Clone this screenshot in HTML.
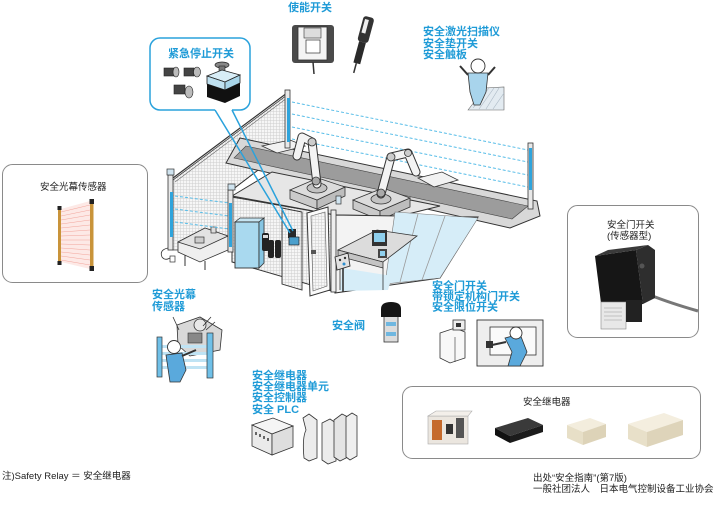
<!DOCTYPE html>
<html><head><meta charset="utf-8"><style>
html,body{margin:0;padding:0;background:#fff}
svg{display:block}
.b{font-family:"Liberation Sans","Noto Sans CJK SC",sans-serif;font-weight:bold;font-size:11px;fill:#1f9bd7}
.k{font-family:"Liberation Sans","Noto Sans CJK SC",sans-serif;font-size:9.5px;fill:#222}
</style></head><body>
<svg width="720" height="510" viewBox="0 0 720 510" xmlns="http://www.w3.org/2000/svg">
<defs>
<pattern id="mesh" width="3" height="3" patternUnits="userSpaceOnUse"><rect width="3" height="3" fill="#f6f6f6"/><path d="M0 .5H3M.5 0V3" stroke="#cfcfcf" stroke-width=".5"/></pattern>
</defs>

<!-- ===== MAIN CELL ===== -->
<g stroke="#58bde8" stroke-width="1" stroke-dasharray="3,2" fill="none">
<line x1="292" y1="102" x2="528" y2="150"/>
<line x1="292" y1="114" x2="528" y2="162"/>
<line x1="292" y1="127" x2="528" y2="175"/>
<line x1="292" y1="139" x2="528" y2="187"/>
</g>
<polygon points="173,180 287,95 287,148 232,190 232,250 173,250" fill="url(#mesh)" stroke="#444" stroke-width=".8"/>
<line x1="173" y1="178" x2="287" y2="93" stroke="#333" stroke-width="1.2"/>
<line x1="175" y1="182" x2="287" y2="98" stroke="#666" stroke-width=".6"/>
<line x1="232" y1="190" x2="287" y2="148" stroke="#333" stroke-width=".8"/>

<!-- conveyor -->
<polygon points="240,138 537,201 540,216 510,228 226,163" fill="#d8d8d8" stroke="#333"/>
<polygon points="246,146 528,206 512,219 234,158" fill="#9c9c9c" stroke="#444" stroke-width=".6"/>
<polygon points="262,146 290,140 305,146 277,153" fill="#f2f2f2" stroke="#333" stroke-width=".8"/>
<polygon points="418,178 442,172 458,180 434,187" fill="#f2f2f2" stroke="#333" stroke-width=".8"/>

<!-- base top -->
<polygon points="232,196 272,172 440,206 400,216 335,215" fill="#e6e6e6" stroke="#333"/>

<!-- pedestal 1 -->
<polygon points="290,190 317,200 317,209 290,199" fill="#cacaca" stroke="#333" stroke-width=".8"/>
<polygon points="317,200 345,187 345,196 317,209" fill="#bdbdbd" stroke="#333" stroke-width=".8"/>
<polygon points="290,190 318,178 345,187 317,200" fill="#dcdcdc" stroke="#333" stroke-width=".8"/>
<ellipse cx="317" cy="188" rx="10" ry="5" fill="#c2c2c2" stroke="#333" stroke-width=".8"/>
<!-- pedestal 2 -->
<polygon points="353,200 380,211 380,220 353,209" fill="#cacaca" stroke="#333" stroke-width=".8"/>
<polygon points="380,211 410,198 410,207 380,220" fill="#bdbdbd" stroke="#333" stroke-width=".8"/>
<polygon points="353,200 383,188 410,198 380,211" fill="#dcdcdc" stroke="#333" stroke-width=".8"/>
<ellipse cx="381" cy="199" rx="10" ry="5" fill="#c2c2c2" stroke="#333" stroke-width=".8"/>

<!-- robots -->
<g fill="none" stroke-linecap="round" stroke-linejoin="round">
<polyline points="317,184 312,142 302,137 297,156" stroke="#333" stroke-width="9"/>
<polyline points="317,184 312,142 302,137 297,156" stroke="#f3f3f3" stroke-width="7"/>
<polyline points="381,194 391,157 408,153 416,172" stroke="#333" stroke-width="9"/>
<polyline points="381,194 391,157 408,153 416,172" stroke="#f3f3f3" stroke-width="7"/>
</g>
<circle cx="312" cy="142" r="4" fill="#ccc" stroke="#333" stroke-width=".8"/>
<circle cx="391" cy="157" r="4" fill="#ccc" stroke="#333" stroke-width=".8"/>
<circle cx="408" cy="153" r="3.5" fill="#ccc" stroke="#333" stroke-width=".8"/>
<circle cx="316" cy="181" r="4" fill="#aaa" stroke="#333" stroke-width=".8"/>
<circle cx="381" cy="193" r="4" fill="#aaa" stroke="#333" stroke-width=".8"/>

<!-- front wall -->
<polygon points="232,197 335,215 335,292 232,262" fill="url(#mesh)" stroke="#333"/>
<!-- right section -->
<polygon points="335,215 400,216 478,217 440,278 335,293" fill="#f3f3f3" stroke="#333"/>
<polygon points="395,212 478,218 440,278 385,284" fill="#d6edf8" stroke="#777" stroke-width=".6"/>
<line x1="418" y1="214" x2="400" y2="282" stroke="#9a9a9a" stroke-width=".8"/>
<line x1="445" y1="216" x2="422" y2="280" stroke="#9a9a9a" stroke-width=".8"/>
<polygon points="342,268 392,276 388,290 340,291" fill="#d6edf8"/>
<polygon points="338,250 377,230 417,236 383,262" fill="#dcdcdc" stroke="#333" stroke-width=".8"/>
<polygon points="338,250 383,262 383,268 338,256" fill="#c4c4c4" stroke="#333" stroke-width=".8"/>
<line x1="383" y1="268" x2="383" y2="290" stroke="#333" stroke-width=".8"/>
<line x1="340" y1="256" x2="340" y2="290" stroke="#333" stroke-width=".8"/>
<rect x="372" y="230" width="15" height="16" fill="#333"/>
<rect x="374" y="233" width="11" height="9" fill="#8fd0ee"/>
<rect x="378" y="249" width="9" height="9" fill="#444"/>
<rect x="380" y="251" width="5" height="5" fill="#8fd0ee"/>
<rect x="331" y="210" width="5" height="82" fill="#eee" stroke="#333" stroke-width=".8"/>
<rect x="336" y="196" width="5" height="8" fill="#cfe3ef" stroke="#333" stroke-width=".7"/>

<!-- cabinet -->
<polygon points="235,222 240,218 264,218 259,222" fill="#c6e5f3" stroke="#333" stroke-width=".8"/>
<rect x="235" y="222" width="24" height="46" fill="#a9d9ef" stroke="#333" stroke-width=".9"/>
<polygon points="259,222 264,218 264,263 259,268" fill="#86c5e2" stroke="#333" stroke-width=".8"/>
<g fill="#222">
<rect x="262" y="233" width="7" height="18" rx="2"/>
<rect x="268" y="240" width="6" height="18" rx="2"/>
<rect x="275" y="240" width="6" height="18" rx="2"/>
</g>
<rect x="263" y="235" width="5" height="3" fill="#ddd"/>
<polygon points="282,208 302,212 302,290 282,284" fill="url(#mesh)" stroke="#333" stroke-width=".9"/>
<rect x="288" y="229" width="8" height="9" fill="#2a2a2a"/>
<rect x="289" y="237" width="10" height="8" fill="#4a9fcc" stroke="#222" stroke-width=".7"/>
<polygon points="307,213 328,207 330,290 310,296" fill="#fafafa" stroke="#333" stroke-width="1"/>
<polygon points="311,216 325,212 327,286 313,291" fill="url(#mesh)" stroke="#555" stroke-width=".6"/>
<rect x="311" y="250" width="5" height="4" fill="#555"/>
<line x1="343" y1="266" x2="343" y2="292" stroke="#333" stroke-width="1.6"/>
<polygon points="335,257 348,253 350,266 337,270" fill="#e2e2e2" stroke="#333" stroke-width=".9"/>
<circle cx="340" cy="260" r="1.2" fill="#333"/><circle cx="345" cy="258" r="1.2" fill="#333"/><circle cx="344" cy="264" r="1.5" fill="#2b8fd0"/>

<!-- left front table -->
<polygon points="178,242 205,228 228,236 228,250 200,262 178,252" fill="#efefef" stroke="#333" stroke-width=".8"/>
<polygon points="178,242 205,228 228,236 200,249" fill="#e2e2e2" stroke="#333" stroke-width=".8"/>
<rect x="195" y="237" width="9" height="6" fill="#ccc" stroke="#333" stroke-width=".7"/>
<rect x="211" y="227" width="5" height="6" fill="#ddd" stroke="#333" stroke-width=".7"/>
<line x1="185" y1="255" x2="185" y2="266" stroke="#333"/><line x1="205" y1="261" x2="205" y2="270" stroke="#333"/>
<path d="M168,248 q-9,2 -6,9 q3,4 8,1" fill="none" stroke="#333" stroke-width=".8"/>
<rect x="170" y="256" width="5" height="6" fill="#fff" stroke="#333" stroke-width=".7"/>

<g stroke="#58bde8" stroke-width="1" stroke-dasharray="3,2" fill="none">
<line x1="175" y1="196" x2="229" y2="203"/>
<line x1="175" y1="209" x2="229" y2="216"/>
<line x1="175" y1="222" x2="229" y2="229"/>
</g>

<!-- posts -->
<rect x="168" y="175" width="5" height="75" fill="#e8e8e8" stroke="#333" stroke-width=".8"/>
<rect x="170" y="192" width="3" height="45" fill="#2fa4dc"/>
<rect x="167" y="169" width="7" height="6" fill="#cfe3ef" stroke="#333" stroke-width=".7"/>
<rect x="228" y="190" width="5" height="62" fill="#e8e8e8" stroke="#333" stroke-width=".8"/>
<rect x="229" y="203" width="3" height="44" fill="#2fa4dc"/>
<rect x="228" y="184" width="7" height="6" fill="#cfe3ef" stroke="#333" stroke-width=".7"/>
<rect x="285" y="90" width="5" height="58" fill="#e8e8e8" stroke="#333" stroke-width=".8"/>
<rect x="287" y="98" width="3" height="44" fill="#2fa4dc"/>
<rect x="528" y="143" width="5" height="66" fill="#e8e8e8" stroke="#333" stroke-width=".8"/>
<rect x="529" y="148" width="3" height="42" fill="#2fa4dc"/>

<!-- ===== BUBBLE ===== -->
<path d="M215,110 H160 a10,10 0 0 1 -10,-10 V48 a10,10 0 0 1 10,-10 H240 a10,10 0 0 1 10,10 V100 a10,10 0 0 1 -10,10 H232" fill="#fff" stroke="#2aa2dc" stroke-width="1.5"/>
<line x1="215" y1="110" x2="290" y2="233" stroke="#2aa2dc" stroke-width="1.5"/>
<line x1="232" y1="110" x2="293" y2="231" stroke="#2aa2dc" stroke-width="1.5"/>
<text class="b" x="168" y="57">紧急停止开关</text>
<g stroke="#222" stroke-width=".6">
<rect x="164" y="68" width="10" height="8" fill="#444"/><ellipse cx="176" cy="72" rx="3" ry="5" fill="#bbb"/>
<rect x="184" y="68" width="10" height="8" fill="#444"/><ellipse cx="197" cy="72" rx="3.5" ry="5" fill="#bbb"/>
<rect x="174" y="85" width="11" height="9" fill="#444"/><ellipse cx="189" cy="92" rx="4" ry="6" fill="#bbb"/>
</g>
<ellipse cx="222" cy="65" rx="7" ry="3" fill="#888" stroke="#222" stroke-width=".7"/>
<rect x="219" y="66" width="6" height="6" fill="#777" stroke="#222" stroke-width=".6"/>
<polygon points="207,76 222,70 240,75 225,82" fill="#d8edf6" stroke="#222" stroke-width=".8"/>
<polygon points="207,76 225,82 225,90 207,84" fill="#bfe1f0" stroke="#222" stroke-width=".8"/>
<polygon points="225,82 240,75 240,83 225,90" fill="#a9d6ea" stroke="#222" stroke-width=".8"/>
<polygon points="207,84 225,90 240,83 240,96 225,103 207,97" fill="#111"/>

<!-- ===== ENABLING SWITCH ===== -->
<text class="b" x="288" y="11">使能开关</text>
<rect x="292" y="25" width="42" height="38" rx="3" fill="#4a4a4a"/>
<rect x="298" y="27" width="29" height="33" fill="#f4f4f4" stroke="#333" stroke-width=".8"/>
<rect x="304" y="28" width="17" height="10" fill="#ddd" stroke="#333" stroke-width=".6"/>
<rect x="306" y="40" width="14" height="13" fill="#fff" stroke="#333" stroke-width=".7"/>
<line x1="313" y1="62" x2="314" y2="74" stroke="#333" stroke-width="1.5"/>
<g transform="rotate(15 362 42)">
<rect x="357" y="16" width="11" height="26" rx="3" fill="#333"/>
<rect x="359" y="19" width="4" height="14" fill="#eee"/>
<rect x="359" y="42" width="7" height="22" fill="#2a2a2a"/>
<line x1="362" y1="64" x2="362" y2="74" stroke="#333" stroke-width="1.5"/>
</g>

<!-- ===== LASER SCANNER ===== -->
<text class="b" x="423" y="35">安全激光扫描仪</text>
<text class="b" x="423" y="47">安全垫开关</text>
<text class="b" x="423" y="58">安全触板</text>
<polygon points="468,110 485,88 504,87 504,110" fill="#e3ebf1" stroke="#666" stroke-width=".6"/>
<g stroke="#aab8c4" stroke-width=".6"><line x1="473" y1="108" x2="489" y2="88"/><line x1="479" y1="109" x2="494" y2="88"/><line x1="486" y1="109" x2="499" y2="88"/><line x1="493" y1="109" x2="504" y2="93"/></g>
<polygon points="468,73 488,73 486,92 480,105 474,105 470,92" fill="#a8d4ec" stroke="#333" stroke-width=".8"/>
<line x1="468" y1="75" x2="460" y2="66" stroke="#333" stroke-width="2"/>
<line x1="488" y1="75" x2="495" y2="67" stroke="#333" stroke-width="2"/>
<circle cx="478" cy="66" r="7" fill="#fff" stroke="#333" stroke-width=".9"/>

<!-- ===== LIGHT CURTAIN BOX ===== -->
<rect x="2.5" y="164.5" width="145" height="118" rx="10" fill="#fff" stroke="#8a8a8a"/>
<text class="k" x="40" y="190" font-size="10">安全光幕传感器</text>
<polygon points="61,209 90,201 90,269 61,262" fill="#fde9e6"/>
<g stroke="#f2a49a" stroke-width=".5">
<line x1="61" y1="212" x2="90" y2="205"/><line x1="61" y1="216" x2="90" y2="210"/><line x1="61" y1="220" x2="90" y2="215"/><line x1="61" y1="224" x2="90" y2="220"/><line x1="61" y1="228" x2="90" y2="225"/><line x1="61" y1="232" x2="90" y2="230"/><line x1="61" y1="236" x2="90" y2="235"/><line x1="61" y1="240" x2="90" y2="240"/><line x1="61" y1="244" x2="90" y2="245"/><line x1="61" y1="248" x2="90" y2="250"/><line x1="61" y1="252" x2="90" y2="255"/><line x1="61" y1="256" x2="90" y2="260"/><line x1="61" y1="260" x2="90" y2="265"/>
</g>
<rect x="58" y="208" width="3" height="56" fill="#c9943a"/>
<rect x="57.5" y="206" width="4" height="4" fill="#222"/><rect x="57.5" y="261" width="4" height="4" fill="#222"/>
<rect x="90" y="200" width="3.5" height="70" fill="#c9943a"/>
<rect x="89.5" y="199" width="4.5" height="5" fill="#222"/><rect x="89.5" y="266" width="4.5" height="5" fill="#222"/>

<!-- ===== DOOR SWITCH BOX ===== -->
<rect x="567.5" y="205.5" width="131" height="132" rx="10" fill="#fff" stroke="#8a8a8a"/>
<text class="k" x="607" y="228" font-size="10">安全门开关</text>
<text class="k" x="607" y="239" font-size="10">(传感器型)</text>
<path d="M650,295 q20,8 48,16" fill="none" stroke="#777" stroke-width="3"/>
<polygon points="636,250 648,245 655,250 655,298 643,304" fill="#2e2e2e"/>
<polygon points="595,256 636,250 643,304 602,311" fill="#161616"/>
<polygon points="595,256 608,250 648,245 636,250" fill="#3a3a3a"/>
<circle cx="642" cy="266" r="2.5" fill="#555"/>
<rect x="601" y="302" width="25" height="27" fill="#e8e8e8" stroke="#888" stroke-width=".6"/>
<g stroke="#999" stroke-width=".6"><line x1="604" y1="308" x2="622" y2="308"/><line x1="604" y1="312" x2="622" y2="312"/><line x1="604" y1="316" x2="622" y2="316"/><line x1="604" y1="320" x2="622" y2="320"/></g>
<rect x="626" y="300" width="16" height="22" fill="#222"/>

<!-- ===== BOTTOM LEFT LIGHT CURTAIN SCENE ===== -->
<text class="b" x="152" y="298">安全光幕</text>
<text class="b" x="152" y="310">传感器</text>
<polygon points="177,325 200,317 222,330 220,350 190,356 178,345" fill="#d8d8d8" stroke="#333" stroke-width=".8"/>
<circle cx="200" cy="325" r="6" fill="#e8e8e8" stroke="#333" stroke-width=".8"/>
<rect x="188" y="333" width="14" height="10" fill="#888" stroke="#333" stroke-width=".6"/>
<g stroke="#333" stroke-width=".8"><line x1="173" y1="317" x2="179" y2="330"/><line x1="211" y1="317" x2="203" y2="326"/><line x1="215" y1="322" x2="206" y2="330"/></g>
<g fill="#bfe3f4"><rect x="161" y="345" width="48" height="3"/><rect x="161" y="352" width="48" height="3"/><rect x="161" y="359" width="48" height="3"/><rect x="161" y="366" width="48" height="3"/></g>
<rect x="157" y="337" width="5" height="40" fill="#6fc0e8" stroke="#333" stroke-width=".7"/>
<rect x="207" y="333" width="6" height="45" fill="#6fc0e8" stroke="#333" stroke-width=".7"/>
<polygon points="166,355 182,353 186,370 180,382 170,382" fill="#5aa9dc" stroke="#333" stroke-width=".8"/>
<line x1="182" y1="356" x2="196" y2="350" stroke="#333" stroke-width="2"/>
<circle cx="174" cy="347" r="6.5" fill="#fff" stroke="#333" stroke-width=".9"/>

<!-- ===== SAFETY VALVE ===== -->
<text class="b" x="332" y="329">安全阀</text>
<rect x="384" y="316" width="14" height="26" fill="#dcdcdc" stroke="#333" stroke-width=".8"/>
<rect x="386" y="322" width="10" height="4" fill="#6fb7e0"/>
<rect x="386" y="332" width="10" height="4" fill="#6fb7e0"/>
<path d="M381,309 q0,-7 10,-7 q10,0 10,7 v8 h-20z" fill="#151515"/>

<!-- ===== RELAY PRODUCTS (bottom center) ===== -->
<text class="b" x="252" y="379">安全继电器</text>
<text class="b" x="252" y="390">安全继电器单元</text>
<text class="b" x="252" y="401">安全控制器</text>
<text class="b" x="252" y="413">安全 PLC</text>
<polygon points="252,425 273,418 293,426 272,434" fill="#f5f5f5" stroke="#333" stroke-width=".8"/>
<polygon points="252,425 272,434 272,455 252,446" fill="#eaeaea" stroke="#333" stroke-width=".8"/>
<polygon points="272,434 293,426 293,447 272,455" fill="#dedede" stroke="#333" stroke-width=".8"/>
<g fill="#666"><rect x="255" y="432" width="2" height="3"/><rect x="259" y="434" width="2" height="3"/><rect x="263" y="436" width="2" height="3"/><rect x="267" y="438" width="2" height="3"/></g>
<path d="M303,418 l6,-4 l8,6 v38 l-8,3 l-5,-3 q-2,-20 2,-28 z" fill="#ececec" stroke="#333" stroke-width=".8"/>
<path d="M322,423 l8,-4 l6,4 v38 l-8,3 l-6,-4 z" fill="#ececec" stroke="#333" stroke-width=".8"/>
<path d="M334,420 l8,-6 l6,3 v40 l-8,4 l-6,-4 z" fill="#e4e4e4" stroke="#333" stroke-width=".8"/>
<path d="M346,417 l6,-4 l5,3 v40 l-7,4 l-4,-3 z" fill="#efefef" stroke="#333" stroke-width=".8"/>

<!-- ===== DOOR SWITCH SCENE ===== -->
<text class="b" x="432" y="289.5">安全门开关</text>
<text class="b" x="432" y="300">带锁定机构门开关</text>
<text class="b" x="432" y="310.5">安全限位开关</text>
<polygon points="440,333 455,328 465,332 465,358 450,363 440,358" fill="#f8f8f8" stroke="#333" stroke-width=".8"/>
<line x1="455" y1="337" x2="455" y2="362" stroke="#333" stroke-width=".6"/>
<rect x="453" y="320" width="12" height="10" fill="#eee" stroke="#333" stroke-width=".8"/>
<rect x="456" y="323" width="5" height="4" fill="#333"/>
<rect x="477" y="320" width="66" height="46" fill="#eeeeee" stroke="#333" stroke-width=".9"/>
<rect x="490" y="327" width="46" height="28" fill="#fafafa" stroke="#333" stroke-width=".8"/>
<rect x="486" y="341" width="7" height="7" fill="#333"/>
<polygon points="505,338 520,334 527,352 520,366 508,366 512,352" fill="#5aa9dc" stroke="#333" stroke-width=".8"/>
<line x1="506" y1="342" x2="492" y2="345" stroke="#333" stroke-width="2"/>
<circle cx="516" cy="333" r="6" fill="#fff" stroke="#333" stroke-width=".9"/>

<!-- ===== RELAY BOX ===== -->
<rect x="402.5" y="386.5" width="298" height="72" rx="10" fill="#fff" stroke="#8a8a8a"/>
<text class="k" x="523" y="405" font-size="10.5">安全继电器</text>
<rect x="428" y="416" width="40" height="28" fill="#ebe6df" stroke="#aaa" stroke-width=".6"/>
<polygon points="428,416 436,411 472,411 468,416" fill="#f3efea" stroke="#aaa" stroke-width=".6"/>
<rect x="432" y="420" width="10" height="20" fill="#c56a2c"/>
<rect x="446" y="424" width="7" height="10" fill="#333"/>
<rect x="456" y="418" width="8" height="20" fill="#555"/>
<polygon points="495,428 528,418 543,425 510,436" fill="#3a3a3a"/>
<polygon points="495,428 510,436 510,443 495,435" fill="#111"/>
<polygon points="510,436 543,425 543,432 510,443" fill="#1c1c1c"/>
<polygon points="567,425 590,418 606,424 583,432" fill="#f3eddd"/>
<polygon points="567,425 583,432 583,445 567,438" fill="#e7dfc7"/>
<polygon points="583,432 606,424 606,437 583,445" fill="#ddd3b8"/>
<polygon points="628,424 664,413 683,420 647,432" fill="#f4eedf"/>
<polygon points="628,424 647,432 647,447 628,439" fill="#e8e0c9"/>
<polygon points="647,432 683,420 683,435 647,447" fill="#ded4ba"/>

<!-- ===== FOOTNOTES ===== -->
<text class="k" x="2" y="479">注)Safety Relay ＝ 安全继电器</text>
<text class="k" x="533" y="481">出处“安全指南”(第7版)</text>
<text class="k" x="533" y="492">一般社团法人　日本电气控制设备工业协会</text>
</svg>
</body></html>
